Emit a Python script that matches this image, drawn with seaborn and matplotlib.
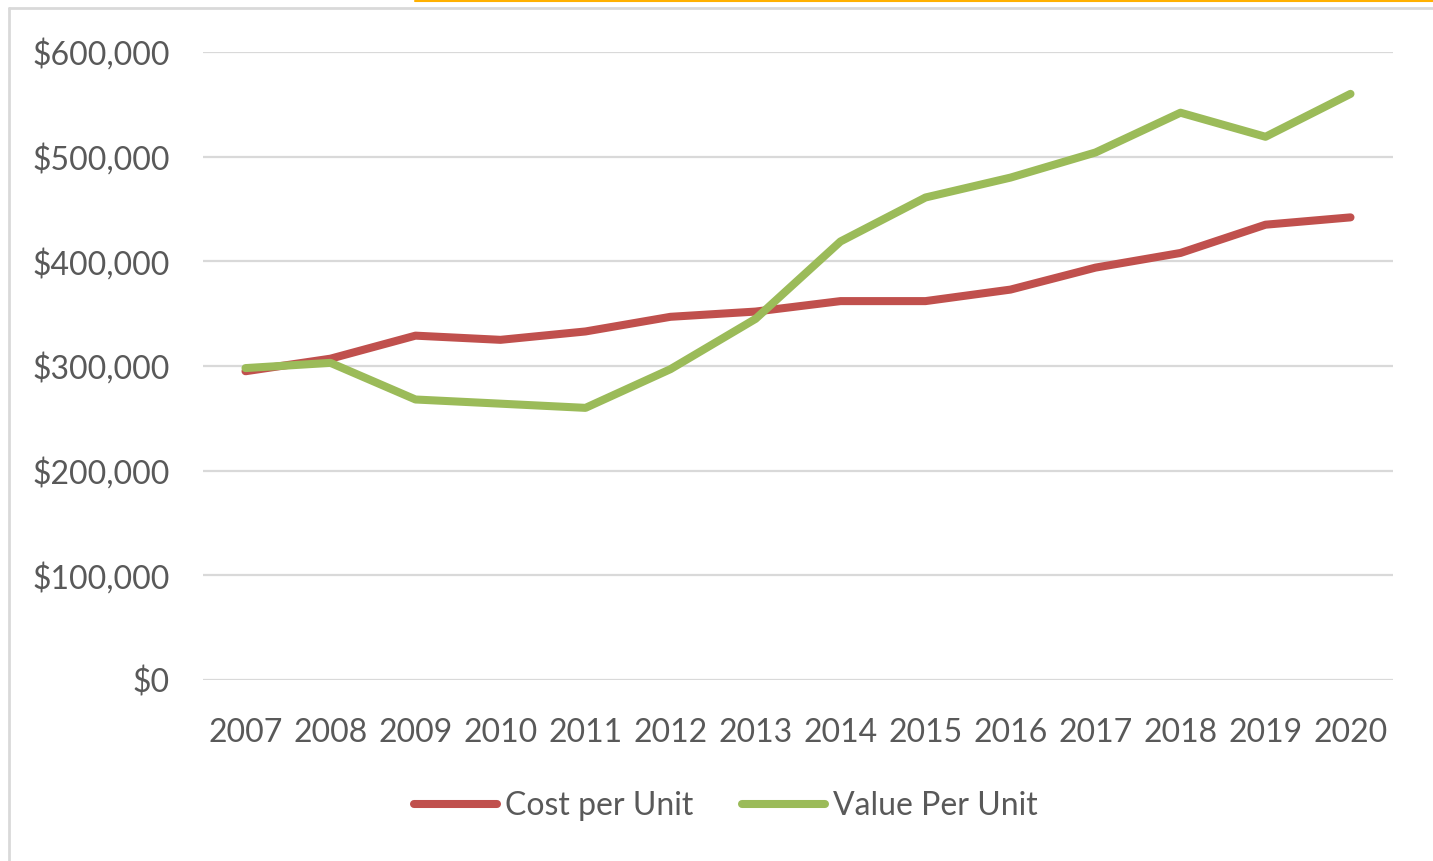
import matplotlib
matplotlib.use("Agg")
import matplotlib.pyplot as plt
from matplotlib.lines import Line2D
from matplotlib.ticker import FuncFormatter
import seaborn as sns
import pandas as pd

# --- data ---
years = [2007, 2008, 2009, 2010, 2011, 2012, 2013, 2014, 2015, 2016, 2017, 2018, 2019, 2020]
cost_per_unit = [295000, 307000, 329000, 325000, 333000, 347000, 352000, 362000, 362000, 373000, 394000, 408000, 435000, 442000]
value_per_unit = [298000, 303000, 268000, 264000, 260000, 297000, 345000, 419000, 461000, 480000, 504000, 542000, 519000, 560000]
series_names = ["Cost per Unit", "Value Per Unit"]
y_ticks = [0, 100000, 200000, 300000, 400000, 500000, 600000]

colors = {"Cost per Unit": "#C0504D", "Value Per Unit": "#9BBB59"}
text_color = "#595959"
grid_color = "#D9D9D9"

df = pd.DataFrame({
    "year": [str(y) for y in years] * 2,
    "pos": list(range(len(years))) * 2,
    "value": cost_per_unit + value_per_unit,
    "series": [series_names[0]] * len(years) + [series_names[1]] * len(years),
})

sns.set_theme(style="white")
plt.rcParams["font.family"] = ["Lato", "DejaVu Sans"]

W, H = 1433, 861
fig = plt.figure(figsize=(W / 100, H / 100), dpi=100)
ax = fig.add_axes([203 / W, 1 - 680 / H, (1393 - 203) / W, (680 - 52) / H])

sns.lineplot(
    data=df, x="pos", y="value", hue="series", palette=colors,
    linewidth=5.8, ax=ax, legend=False, sort=False,
    solid_capstyle="round", solid_joinstyle="round",
)

ax.set_xlim(-0.5, len(years) - 0.5)
ax.set_ylim(0, 600000)
ax.set_xticks(range(len(years)))
ax.set_xticklabels([str(y) for y in years])
ax.set_yticks(y_ticks)
ax.yaxis.set_major_formatter(FuncFormatter(lambda v, _: f"${v:,.0f}"))
ax.set_xlabel("")
ax.set_ylabel("")

ax.grid(axis="y", color=grid_color, linewidth=1.6, zorder=0)
ax.set_axisbelow(True)
for s in ax.spines.values():
    s.set_visible(False)
ax.tick_params(axis="both", length=0, labelsize=23, labelcolor=text_color)
ax.tick_params(axis="y", pad=24)
ax.tick_params(axis="x", pad=27)

handles = [Line2D([0], [0], color=colors[n], linewidth=5.8, solid_capstyle="round") for n in series_names]
fig.legend(
    handles, series_names, loc="center", bbox_to_anchor=(726 / W, 1 - 806 / H),
    ncol=2, frameon=False, fontsize=23, labelcolor=text_color,
    handlelength=2.6, handletextpad=0.25, columnspacing=1.5,
)

# chart-area frame and top accent line
fig.add_artist(Line2D([9 / W, 9 / W], [0, 1 - 8 / H], transform=fig.transFigure, color=grid_color, linewidth=2))
fig.add_artist(Line2D([9 / W, 1], [1 - 8 / H, 1 - 8 / H], transform=fig.transFigure, color=grid_color, linewidth=2))
fig.add_artist(Line2D([415 / W, 1], [1 - 0.5 / H, 1 - 0.5 / H], transform=fig.transFigure, color="#FFB000", linewidth=1.5))

fig.savefig("out.png", dpi=100)
